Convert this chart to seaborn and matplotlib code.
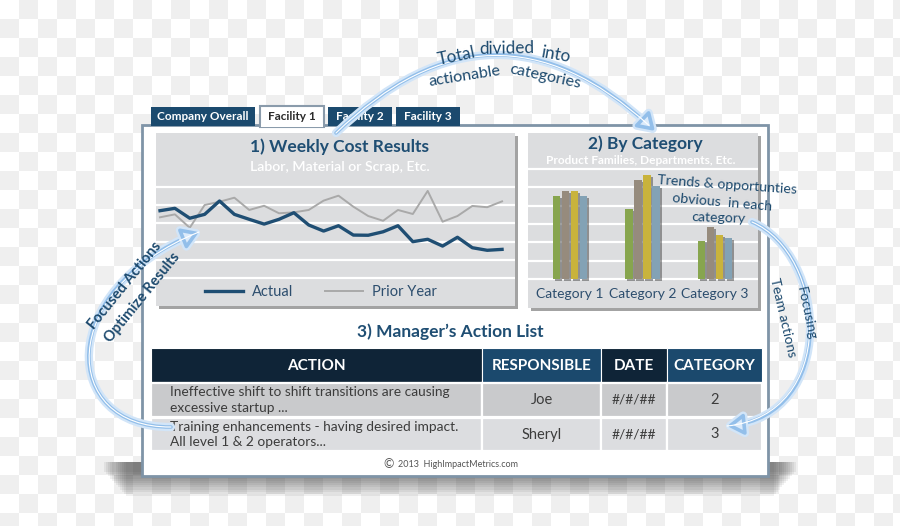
import numpy as np
import pandas as pd
import matplotlib
matplotlib.use("Agg")
import matplotlib.pyplot as plt
import seaborn as sns
from matplotlib.patches import Rectangle, FancyArrowPatch
from matplotlib.path import Path
from matplotlib.colors import ListedColormap
import matplotlib.patheffects as pe

# ---------------- data ----------------
weeks = list(range(1, 25))
actual = [36.9, 38.2, 32.8, 34.9, 42.2, 34.9, 32.2, 29.6, 32.2, 35.8, 29.1, 25.8,
          28.7, 23.6, 23.5, 25.4, 28.7, 20.0, 21.3, 17.6, 22.4, 16.7, 15.3, 15.8]
prior_year = [33.3, 34.9, 27.6, 40.0, 41.8, 44.0, 37.3, 39.6, 35.5, 36.0, 37.3, 42.4,
              45.1, 39.1, 34.0, 31.4, 37.3, 35.1, 47.7, 30.9, 34.0, 39.5, 38.8, 42.0]
line_labels = ["Actual", "Prior Year"]

categories = ["Category 1", "Category 2", "Category 3"]
bar_series = ["Series 1", "Series 2", "Series 3", "Series 4"]
s1_vals = [45.3, 38.0, 20.9]
s2_vals = [47.8, 54.0, 28.4]
s3_vals = [47.8, 56.7, 24.0]
s4_vals = [45.3, 50.7, 22.2]

tab_labels = ["Company Overall", "Facility 1", "Facility 2", "Facility 3"]
table_columns = ["ACTION", "RESPONSIBLE", "DATE", "CATEGORY"]
table_actions = [["Ineffective shift to shift transitions are causing", "excessive startup ..."],
                 ["Training enhancements - having desired impact.", "All level 1 & 2 operators..."]]
table_responsible = ["Joe", "Sheryl"]
table_dates = ["#/#/##", "#/#/##"]
table_categories = ["2", "3"]

# ---------------- style ----------------
W, H = 900, 526
plt.rcParams["font.family"] = ["Lato", "DejaVu Sans"]
NAVY = "#1d4a6e"
TXT = "#3c3c3c"

fig = plt.figure(figsize=(W / 100, H / 100), dpi=100)


def frect(x0, y0, x1, y1):
    return [x0 / W, 1 - y1 / H, (x1 - x0) / W, (y1 - y0) / H]


# background axes (pixel coordinates)
bg = fig.add_axes([0, 0, 1, 1], zorder=0)
checker = np.indices((28, 48)).sum(axis=0) % 2
bg.imshow(checker, cmap=ListedColormap(["#ffffff", "#efefef"]), extent=(0, 912, 532, 0),
          interpolation="nearest", aspect="auto", zorder=0)
bg.set_xlim(0, W)
bg.set_ylim(H, 0)
bg.axis("off")

# frame shadow
for k in range(12):
    bg.add_patch(Rectangle((104 + k * 2, 462), 692 - k * 4, 10 + k * 2.2, fc="#3a3a3a",
                           ec="none", alpha=0.075, zorder=1))
# frame
bg.add_patch(Rectangle((142, 125), 626, 351, fc="white", ec="#7f94a7", lw=2, zorder=2))

# tabs
tab_x = [(151, 255), (260, 324), (328, 392), (396, 460)]
for i, (lab, (x0, x1)) in enumerate(zip(tab_labels, tab_x)):
    if i == 1:
        bg.add_patch(Rectangle((x0, 106), x1 - x0, 21, fc="white", ec="#8a9bab", lw=1.5, zorder=3))
        bg.add_patch(Rectangle((x0 + 1, 123), x1 - x0 - 2, 4, fc="white", ec="none", zorder=3))
        col = "#2a2a2a"
    else:
        bg.add_patch(Rectangle((x0, 107), x1 - x0, 19, fc="#1b4a6e", ec="none", zorder=3))
        col = "white"
    bg.text((x0 + x1) / 2, 116.5, lab, ha="center", va="center", fontsize=8.5,
            fontweight="bold", color=col, zorder=4)

# panel shadows
bg.add_patch(Rectangle((159, 136), 359, 173, fc="#a3a3a3", ec="none", zorder=3))
bg.add_patch(Rectangle((531, 136), 230, 175, fc="#a3a3a3", ec="none", zorder=3))

# table
col_x = [151, 482, 601, 667, 762]
head_cols = ["#0f2437", "#1b496d", "#0f2437", "#1b496d"]
row_y = [(348, 382), (383, 417), (418, 451)]
row_cols = ["#c9cacc", "#dcdde0"]
for c in range(4):
    x0, x1 = col_x[c], col_x[c + 1]
    bg.add_patch(Rectangle((x0, row_y[0][0]), x1 - x0, row_y[0][1] - row_y[0][0],
                           fc=head_cols[c], ec="white", lw=0.8, zorder=3))
    bg.text((x0 + x1) / 2, 365.5, table_columns[c], ha="center", va="center",
            fontsize=11, fontweight="bold", color="white", zorder=4)
    for r in range(2):
        y0, y1 = row_y[r + 1]
        bg.add_patch(Rectangle((x0, y0), x1 - x0, y1 - y0, fc=row_cols[r], ec="white",
                               lw=1.6, zorder=3))
for r in range(2):
    y0, y1 = row_y[r + 1]
    yc = (y0 + y1) / 2
    bg.text(170, yc - 8.5 if r == 0 else yc - 7.5, table_actions[r][0], ha="left",
            va="center", fontsize=9.9, color=TXT, zorder=4)
    bg.text(170, yc + 8.5 if r == 0 else yc + 7.5, table_actions[r][1], ha="left",
            va="center", fontsize=9.9, color=TXT, zorder=4)
    bg.text(541.5, yc, table_responsible[r], ha="center", va="center", fontsize=10.5,
            color=TXT, zorder=4)
    bg.text(634, yc, table_dates[r], ha="center", va="center", fontsize=10,
            color=TXT, zorder=4)
    bg.text(714.5, yc, table_categories[r], ha="center", va="center", fontsize=10.5,
            color=TXT, zorder=4)

bg.text(389, 464.5, "\u00a9", ha="center", va="center", fontsize=9, color="#555555", zorder=4)
bg.text(458, 464.5, "2013  HighImpactMetrics.com", ha="center", va="center",
        fontsize=6.5, color="#555555", zorder=4)

# ---------------- line chart ----------------
ax1 = fig.add_axes(frect(156, 133, 515, 306), zorder=1)
ax1.set_facecolor("#dcdddf")
df_line = pd.DataFrame({"Week": weeks * 2,
                        "Cost": actual + prior_year,
                        "Series": [line_labels[0]] * len(weeks) + [line_labels[1]] * len(weeks)})
sns.lineplot(data=df_line[df_line["Series"] == line_labels[1]], x="Week", y="Cost",
             color="#a9a9a9", lw=1.4, label=line_labels[1], ax=ax1, zorder=3)
sns.lineplot(data=df_line[df_line["Series"] == line_labels[0]], x="Week", y="Cost",
             color="#1f4e73", lw=2.4, label=line_labels[0], ax=ax1, zorder=4)
ax1.set_xlim(0.73, 24.87)
ax1.set_ylim(-15.1, 79.3)
ax1.set_yticks([0, 10, 20, 30, 40, 50])
ax1.set_xticks([])
ax1.grid(axis="y", color="white", lw=1.6)
ax1.set_axisbelow(True)
ax1.tick_params(left=False, labelleft=False)
ax1.set_xlabel("")
ax1.set_ylabel("")
for s in ax1.spines.values():
    s.set_visible(False)
h, l = ax1.get_legend_handles_labels()
ax1.legend(h[::-1], l[::-1], loc="center", bbox_to_anchor=(0.46, 0.081), ncol=2,
           frameon=False, handlelength=2.6, columnspacing=2.2, fontsize=10.5,
           labelcolor="#2d4e6e", handletextpad=0.6)

# ---------------- bar chart ----------------
ax2 = fig.add_axes(frect(528, 133, 758, 308), zorder=1)
ax2.set_facecolor("#dcdddf")
df_bar = pd.DataFrame({"Category": categories * 4,
                       "Value": s1_vals + s2_vals + s3_vals + s4_vals,
                       "Series": sum([[s] * 3 for s in bar_series], [])})
sns.barplot(data=df_bar, x="Category", y="Value", hue="Series", hue_order=bar_series,
            palette=["#8cb43f", "#9a8c79", "#e0c325", "#7ba4bd"], width=0.5, gap=0.2,
            legend=False, ax=ax2, zorder=3, linewidth=0)
for p in ax2.patches:
    p.set_path_effects([pe.SimplePatchShadow(offset=(1.5, -1.2), shadow_rgbFace="#505050",
                                             alpha=0.55), pe.Normal()])
ax2.set_xlim(-0.579, 2.593)
ax2.set_ylim(-15.8, 79.6)
ax2.set_yticks([0, 10, 20, 30, 40, 50, 60])
ax2.set_xticks([])
ax2.grid(axis="y", color="white", lw=1.6)
ax2.set_axisbelow(True)
ax2.tick_params(left=False, labelleft=False)
ax2.set_xlabel("")
ax2.set_ylabel("")
for s in ax2.spines.values():
    s.set_visible(False)
for i, c in enumerate(categories):
    ax2.text(i, -8.2, c, ha="center", va="center", fontsize=10, color="#2d4e6e")

# ---------------- overlay (titles, annotations, arrows) ----------------
ov = fig.add_axes([0, 0, 1, 1], zorder=3)
ov.set_xlim(0, W)
ov.set_ylim(H, 0)
ov.axis("off")
ov.patch.set_alpha(0)

ov.text(340, 147, "1) Weekly Cost Results", ha="center", va="center", fontsize=12.5,
        fontweight="bold", color="#1f4e73")
ov.text(340, 167, "Labor, Material or Scrap, Etc.", ha="center", va="center", fontsize=10.2,
        fontweight="semibold", color="white")
ov.text(645, 144, "2) By Category", ha="center", va="center", fontsize=12.5,
        fontweight="bold", color="#1f4e73")
ov.text(641, 160, "Product Families, Departments, Etc.", ha="center", va="center",
        fontsize=8.6, fontweight="bold", color="white")
ov.text(450, 332, "3) Manager\u2019s Action List", ha="center", va="center", fontsize=12.5,
        fontweight="bold", color="#1f4e73")


def glow_arrow(**kw):
    a = FancyArrowPatch(arrowstyle="-|>,head_length=0.55,head_width=0.35", mutation_scale=18,
                        lw=2.6, color="#93bfea", fc="#dcebfb", shrinkA=0, shrinkB=0, **kw)
    a.set_path_effects([pe.Stroke(linewidth=6, foreground="#d2e5f8"), pe.Normal()])
    ov.add_patch(a)
    b = FancyArrowPatch(arrowstyle="-", lw=0.8, color="white", shrinkA=0, shrinkB=6, **kw)
    ov.add_patch(b)


# top arc arrow
glow_arrow(posA=(336, 133), posB=(655, 131), connectionstyle="arc3,rad=-0.48")
# left arrow
glow_arrow(path=Path([(171, 427), (60, 428), (55, 290), (199, 232)],
                     [Path.MOVETO, Path.CURVE4, Path.CURVE4, Path.CURVE4]))
# right arrow
glow_arrow(path=Path([(752, 222), (828, 255), (838, 415), (727, 426)],
                     [Path.MOVETO, Path.CURVE4, Path.CURVE4, Path.CURVE4]))

ann = dict(ha="center", va="center", color=NAVY)
for word, x, y, rot, fs in [("Total", 457, 56, 12, 12.3), ("divided", 507, 49, 1, 12.3),
                            ("into", 555, 55, -10, 12.3),
                            ("actionable", 465, 76, 9, 11.6), ("categories", 545, 77, -12, 11.6)]:
    ov.text(x, y, word, fontsize=fs, rotation=rot, **ann)

ov.text(727, 185, "Trends & opportunties", fontsize=10.2, rotation=-4, **ann)
ov.text(722, 202, "obvious  in each", fontsize=10.2, rotation=-5, **ann)
ov.text(719, 218, "category", fontsize=10.2, rotation=-2, **ann)

ov.text(125, 286, "Focused Actions", fontsize=10.5, rotation=51, fontweight="bold", **ann)
ov.text(142, 298, "Optimize Results", fontsize=10.5, rotation=51, fontweight="bold", **ann)

ov.text(806, 313, "Focusing", fontsize=10, rotation=-78, **ann)
ov.text(783, 318, "Team actions", fontsize=10, rotation=-77, **ann)

fig.savefig("out.png", dpi=100)
